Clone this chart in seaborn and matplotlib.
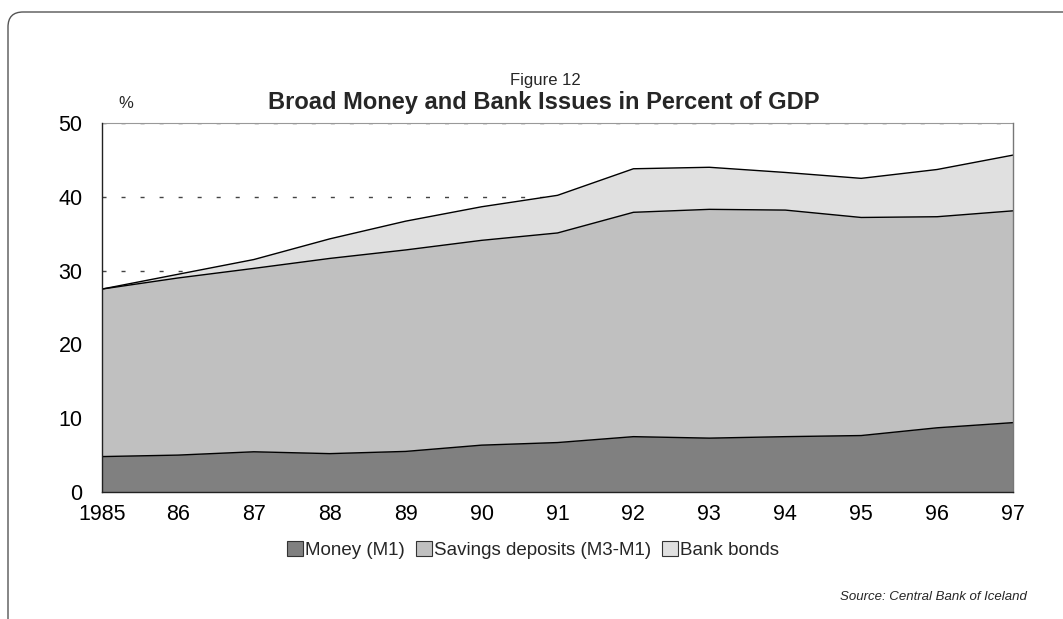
import matplotlib
matplotlib.use("Agg")
import matplotlib.pyplot as plt
from matplotlib.patches import FancyBboxPatch, Patch
import numpy as np
import pandas as pd
import seaborn as sns

# Share of GDP, percent
years = [1985, 1986, 1987, 1988, 1989, 1990, 1991, 1992, 1993, 1994, 1995, 1996, 1997]
year_labels = ["1985", "86", "87", "88", "89", "90", "91", "92", "93", "94", "95", "96", "97"]
money_m1 = [4.8, 5.0, 5.45, 5.2, 5.5, 6.35, 6.7, 7.5, 7.3, 7.5, 7.65, 8.7, 9.4]
savings_deposits = [22.7, 24.0, 24.85, 26.45, 27.3, 27.75, 28.4, 30.4, 31.0, 30.7, 29.55, 28.6, 28.7]
bank_bonds = [0.0, 0.5, 1.2, 2.65, 3.9, 4.55, 5.1, 5.9, 5.7, 5.1, 5.3, 6.4, 7.55]

series_names = ["Money (M1)", "Savings deposits (M3-M1)", "Bank bonds"]
fill_colors = ["#808080", "#c0c0c0", "#e0e0e0"]

sns.set_theme(style="white")
plt.rcParams["font.family"] = ["Liberation Sans", "DejaVu Sans"]

W, H = 1063, 619
fig = plt.figure(figsize=(W / 100, H / 100), dpi=100)
ax = fig.add_axes([102 / W, 1 - 492 / H, (1013 - 102) / W, (492 - 123) / H])

# Rounded frame around the whole figure (inches)
frame = FancyBboxPatch((0.08, -0.3), 11.5, (H - 12) / 100 + 0.3,
                       boxstyle="round,pad=0,rounding_size=0.15",
                       transform=fig.dpi_scale_trans, facecolor="none",
                       edgecolor="#555555", linewidth=1.0)
fig.patches.append(frame)

# Stack boundaries
stack = np.vstack([money_m1, savings_deposits, bank_bonds])
cum = np.cumsum(stack, axis=0)
lower = np.zeros(len(years))
for i, (name, color) in enumerate(zip(series_names, fill_colors)):
    ax.fill_between(years, lower, cum[i], facecolor=color, edgecolor="none", zorder=2)
    lower = cum[i]

bounds = pd.DataFrame({"year": np.tile(years, 3),
                       "value": cum.ravel(),
                       "layer": np.repeat(series_names, len(years))})
sns.lineplot(data=bounds, x="year", y="value", units="layer", estimator=None,
             color="black", linewidth=1.0, ax=ax, zorder=3, legend=False)

ax.set_xlim(1985, 1997)
ax.set_ylim(0, 50)
ax.set_xticks(years)
ax.set_xticklabels(year_labels)
ax.set_yticks([0, 10, 20, 30, 40, 50])
ax.set_xlabel("")
ax.set_ylabel("")
ax.tick_params(axis="both", length=0, labelsize=15.5, colors="black")
ax.tick_params(axis="x", pad=9)
ax.tick_params(axis="y", pad=14)

ax.yaxis.grid(True, linestyle=(0, (2.9, 10.8)), color="#444444", linewidth=1.0, zorder=1)
ax.xaxis.grid(False)
ax.set_axisbelow(True)
for side in ["left", "bottom", "right"]:
    ax.spines[side].set_color("#222222")
    ax.spines[side].set_linewidth(1.0)
    ax.spines[side].set_zorder(4)
ax.spines["right"].set_color("#777777")
ax.spines["top"].set_color("#999999")
ax.spines["top"].set_linewidth(0.8)

fig.text(118 / W, 1 - 104 / H, "%", ha="left", va="center", fontsize=12)

fig.text(545 / W, 1 - 80 / H, "Figure 12", ha="center", va="center", fontsize=12)
fig.text(544 / W, 1 - 102 / H, "Broad Money and Bank Issues in Percent of GDP",
         ha="center", va="center", fontsize=17, fontweight="bold")

handles = [Patch(facecolor=c, edgecolor="#333333", linewidth=0.8) for c in fill_colors]
fig.legend(handles, series_names, loc="center", bbox_to_anchor=(533 / W, 1 - 550 / H),
           ncol=3, frameon=False, fontsize=13.5, handlelength=0.85, handleheight=0.85,
           handletextpad=0.1, columnspacing=0.6, borderpad=0)

fig.text(1027 / W, 1 - 597 / H, "Source: Central Bank of Iceland",
         ha="right", va="center", fontsize=9.5, style="italic")

fig.savefig("out.png", dpi=100)
